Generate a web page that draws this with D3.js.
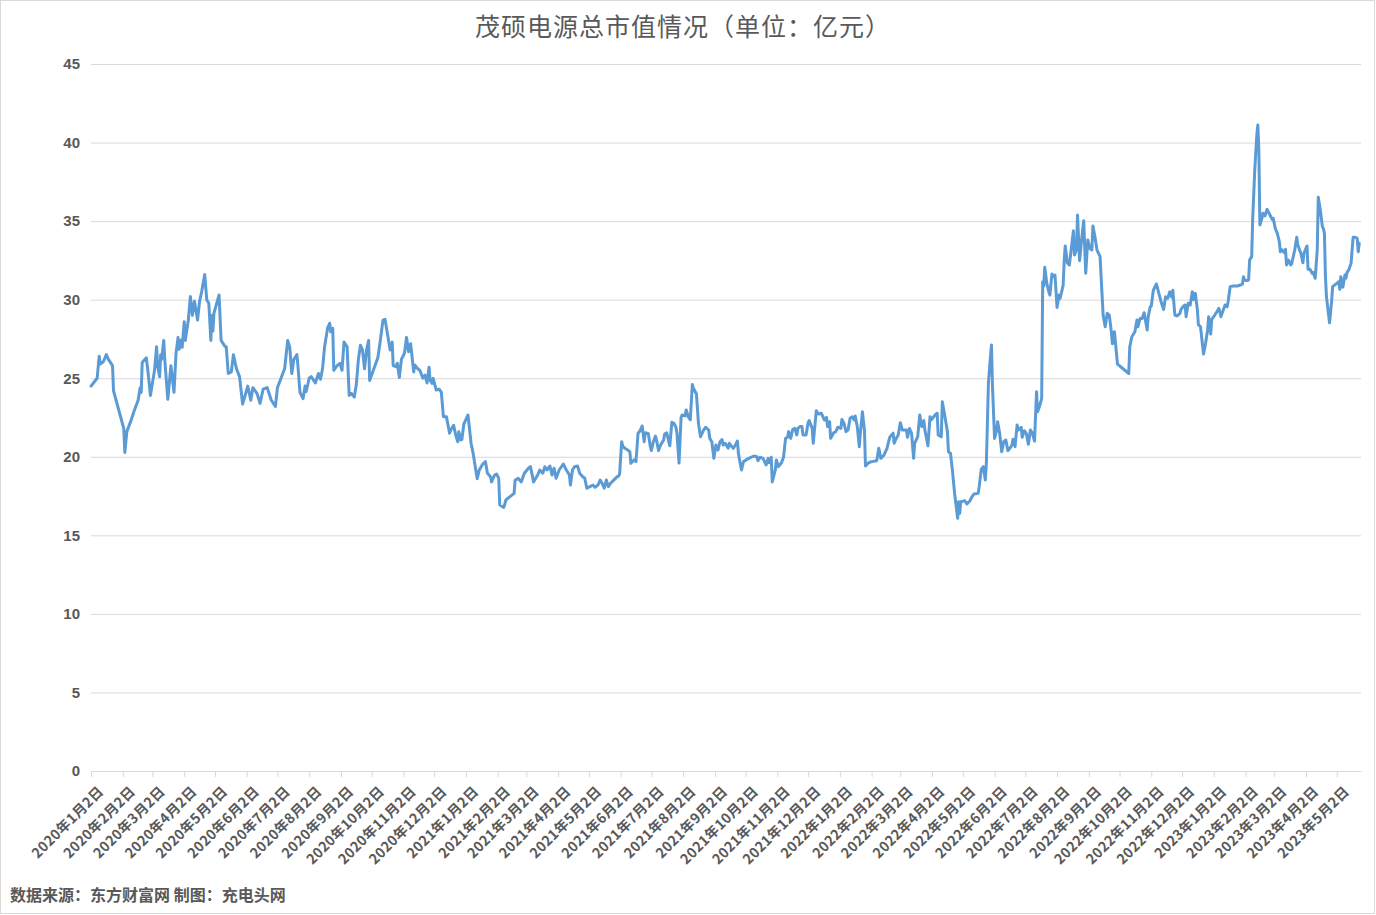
<!DOCTYPE html>
<html>
<head>
<meta charset="utf-8">
<script src="https://cdn.jsdelivr.net/npm/d3@7"></script>
<style>
  body { margin: 0; background: #fff; }
  svg { display: block; }
</style>
</head>
<body>
<div id="chart"></div>
<script>
// 茂硕电源总市值 (亿元), [date, value]
var cap2020 = [["2020-01-02",24.5],["2020-01-08",25.0],["2020-01-10",26.4],["2020-01-11",25.9],["2020-01-14",26.05],["2020-01-17",26.5],["2020-01-19",26.2],["2020-01-23",25.8],["2020-01-24",24.2],["2020-02-03",21.8],["2020-02-04",20.27],["2020-02-06",21.6],["2020-02-10",22.3],["2020-02-13",22.9],["2020-02-17",23.6],["2020-02-19",24.4],["2020-02-20",24.1],["2020-02-21",26.0],["2020-02-25",26.3],["2020-02-27",25.2],["2020-02-29",23.9],["2020-03-04",25.5],["2020-03-06",27.0],["2020-03-07",25.8],["2020-03-09",25.1],["2020-03-10",26.5],["2020-03-11",26.2],["2020-03-13",27.4],["2020-03-14",26.2],["2020-03-17",23.66],["2020-03-20",25.8],["2020-03-23",24.1],["2020-03-25",26.6],["2020-03-27",27.6],["2020-03-28",26.84],["2020-03-30",27.43],["2020-03-31",26.97],["2020-04-02",28.6],["2020-04-03",27.4],["2020-04-06",28.7],["2020-04-08",30.2],["2020-04-10",29.0],["2020-04-12",29.9],["2020-04-15",28.7],["2020-04-17",29.9],["2020-04-19",30.5],["2020-04-22",31.6],["2020-04-24",30.0],["2020-04-26",29.77],["2020-04-28",27.4],["2020-04-29",29.0],["2020-04-30",28.0],["2020-05-01",29.13],["2020-05-06",30.3],["2020-05-08",27.4],["2020-05-10",27.2],["2020-05-12",27.0],["2020-05-13",27.0],["2020-05-15",25.3],["2020-05-18",25.4],["2020-05-20",26.5],["2020-05-23",25.6],["2020-05-26",25.1],["2020-05-29",23.36],["2020-05-31",23.8],["2020-06-03",24.5],["2020-06-06",23.6],["2020-06-08",24.4],["2020-06-12",24.04],["2020-06-15",23.4],["2020-06-18",24.3],["2020-06-22",24.4],["2020-06-26",23.6],["2020-06-30",23.2],["2020-07-02",24.4],["2020-07-06",25.1],["2020-07-09",25.6],["2020-07-10",26.2],["2020-07-12",27.4],["2020-07-14",26.97],["2020-07-16",25.3],["2020-07-18",26.2],["2020-07-21",26.5],["2020-07-22",25.78],["2020-07-24",24.1],["2020-07-27",23.7],["2020-07-29",24.5],["2020-07-30",24.14],["2020-08-02",25.0],["2020-08-04",25.1],["2020-08-08",24.7],["2020-08-11",25.3],["2020-08-13",24.93],["2020-08-15",25.6],["2020-08-17",27.0],["2020-08-20",28.2],["2020-08-22",28.5],["2020-08-23",27.96],["2020-08-25",28.18],["2020-08-26",25.5],["2020-08-29",25.78],["2020-09-01",25.95],["2020-09-03",25.5],["2020-09-05",27.3],["2020-09-08",27.0],["2020-09-10",23.9],["2020-09-12",24.04],["2020-09-15",23.8],["2020-09-17",24.6],["2020-09-19",26.2],["2020-09-21",27.1],["2020-09-23",26.8],["2020-09-25",25.6],["2020-09-27",26.8],["2020-09-29",27.4],["2020-09-30",24.85],["2020-10-08",26.3],["2020-10-10",27.2],["2020-10-13",28.7],["2020-10-15",28.75],["2020-10-19",27.2],["2020-10-20",26.8],["2020-10-22",27.3],["2020-10-23",25.8],["2020-10-26",25.73],["2020-10-27",25.95],["2020-10-29",25.05],["2020-10-31",26.2],["2020-11-03",26.6],["2020-11-05",27.6],["2020-11-07",26.69],["2020-11-09",27.2],["2020-11-12",25.4],["2020-11-13",25.84],["2020-11-16",25.6],["2020-11-18",25.5],["2020-11-21",25.0],["2020-11-23",25.2],["2020-11-25",24.7],["2020-11-27",25.7],["2020-11-28",24.88],["2020-11-30",24.67],["2020-12-01",24.99],["2020-12-04",24.25],["2020-12-07",24.3],["2020-12-09",24.1],["2020-12-11",22.55],["2020-12-14",22.55],["2020-12-17",21.5],["2020-12-19",21.8],["2020-12-21",22.0],["2020-12-23",21.39],["2020-12-25",20.96],["2020-12-26",21.6],["2020-12-28",21.07],["2020-12-29",21.1],["2020-12-31",22.1]];

var cap2021 = [["2021-01-04",22.66],["2021-01-07",20.86],["2021-01-09",20.22],["2021-01-13",18.6],["2021-01-15",19.16],["2021-01-18",19.5],["2021-01-21",19.7],["2021-01-23",18.95],["2021-01-26",18.73],["2021-01-27",18.4],["2021-01-30",18.84],["2021-02-01",18.9],["2021-02-03",18.63],["2021-02-04",16.93],["2021-02-08",16.78],["2021-02-10",17.25],["2021-02-14",17.46],["2021-02-18",17.67],["2021-02-19",18.5],["2021-02-22",18.63],["2021-02-25",18.4],["2021-02-28",18.95],["2021-03-04",19.27],["2021-03-06",19.37],["2021-03-09",18.4],["2021-03-13",18.84],["2021-03-15",19.16],["2021-03-18",18.95],["2021-03-20",19.37],["2021-03-22",19.16],["2021-03-25",19.41],["2021-03-27",18.84],["2021-03-29",19.27],["2021-03-31",18.63],["2021-04-03",19.16],["2021-04-07",19.54],["2021-04-10",19.16],["2021-04-13",18.84],["2021-04-14",18.2],["2021-04-16",19.16],["2021-04-18",19.37],["2021-04-21",19.41],["2021-04-23",18.95],["2021-04-26",18.73],["2021-04-28",18.63],["2021-04-30",18.0],["2021-05-03",18.1],["2021-05-06",18.2],["2021-05-08",18.06],["2021-05-11",18.2],["2021-05-13",18.52],["2021-05-15",18.3],["2021-05-17",18.0],["2021-05-19",18.52],["2021-05-21",18.1],["2021-05-23",18.3],["2021-05-26",18.5],["2021-05-29",18.69],["2021-05-31",18.78],["2021-06-01",18.9],["2021-06-03",20.96],["2021-06-04",20.69],["2021-06-06",20.54],["2021-06-09",20.43],["2021-06-11",20.32],["2021-06-12",19.58],["2021-06-15",19.8],["2021-06-17",19.7],["2021-06-19",21.5],["2021-06-21",21.66],["2021-06-23",21.96],["2021-06-25",20.96],["2021-06-26",21.53],["2021-06-29",21.49],["2021-07-01",20.64],["2021-07-02",20.4],["2021-07-04",20.96],["2021-07-06",21.32],["2021-07-07",21.07],["2021-07-09",20.4],["2021-07-11",20.75],["2021-07-14",21.07],["2021-07-15",21.45],["2021-07-17",21.53],["2021-07-19",20.96],["2021-07-20",20.7],["2021-07-22",22.2],["2021-07-24",22.13],["2021-07-26",21.88],["2021-07-27",21.49],["2021-07-29",19.6],["2021-07-31",22.5],["2021-08-01",22.66],["2021-08-04",22.6],["2021-08-05",22.98],["2021-08-07",22.55],["2021-08-09",22.35],["2021-08-11",24.6],["2021-08-12",24.36],["2021-08-15",24.0],["2021-08-17",22.1],["2021-08-19",21.28],["2021-08-22",21.7],["2021-08-24",21.88],["2021-08-27",21.7],["2021-08-28",21.17],["2021-08-30",20.96],["2021-09-01",19.9],["2021-09-03",20.75],["2021-09-05",20.43],["2021-09-07",20.96],["2021-09-09",21.1],["2021-09-10",20.75],["2021-09-12",20.86],["2021-09-15",20.54],["2021-09-16",20.86],["2021-09-18",20.69],["2021-09-20",20.54],["2021-09-22",20.75],["2021-09-24",21.0],["2021-09-25",20.2],["2021-09-27",19.48],["2021-09-28",19.16],["2021-09-30",19.7],["2021-10-05",19.9],["2021-10-10",20.05],["2021-10-13",20.0],["2021-10-14",19.75],["2021-10-16",19.97],["2021-10-19",19.9],["2021-10-22",19.48],["2021-10-24",19.9],["2021-10-25",19.62],["2021-10-27",19.97],["2021-10-28",18.4],["2021-10-31",19.16],["2021-11-01",19.8],["2021-11-03",19.37],["2021-11-06",19.62],["2021-11-08",19.97],["2021-11-10",21.17],["2021-11-12",21.24],["2021-11-13",21.6],["2021-11-15",21.17],["2021-11-17",21.75],["2021-11-19",21.81],["2021-11-21",21.39],["2021-11-22",21.81],["2021-11-24",21.92],["2021-11-26",21.92],["2021-11-27",21.39],["2021-11-30",21.39],["2021-12-02",22.17],["2021-12-03",22.3],["2021-12-06",21.81],["2021-12-07",20.86],["2021-12-10",22.93],["2021-12-12",22.72],["2021-12-15",22.77],["2021-12-18",22.34],["2021-12-20",22.51],["2021-12-21",21.92],["2021-12-23",22.23],["2021-12-24",21.17],["2021-12-27",21.53],["2021-12-29",21.6],["2021-12-31",21.88]];

var cap2022 = [["2022-01-03",21.81],["2022-01-04",22.38],["2022-01-06",22.13],["2022-01-08",21.6],["2022-01-10",21.7],["2022-01-12",22.45],["2022-01-14",22.55],["2022-01-16",22.34],["2022-01-17",22.6],["2022-01-19",21.92],["2022-01-21",20.64],["2022-01-22",21.49],["2022-01-24",22.87],["2022-01-26",21.7],["2022-01-27",19.41],["2022-01-30",19.62],["2022-02-02",19.69],["2022-02-07",19.75],["2022-02-09",20.54],["2022-02-11",19.9],["2022-02-14",20.1],["2022-02-17",20.54],["2022-02-19",21.07],["2022-02-20",21.28],["2022-02-23",21.5],["2022-02-24",20.86],["2022-02-26",21.17],["2022-02-28",21.39],["2022-03-02",22.17],["2022-03-04",21.7],["2022-03-08",21.7],["2022-03-09",21.24],["2022-03-11",21.8],["2022-03-13",21.49],["2022-03-15",19.9],["2022-03-16",20.86],["2022-03-19",21.28],["2022-03-21",22.66],["2022-03-23",21.92],["2022-03-25",22.3],["2022-03-26",21.7],["2022-03-29",20.7],["2022-03-31",22.55],["2022-04-01",22.34],["2022-04-05",22.66],["2022-04-07",22.77],["2022-04-08",21.39],["2022-04-11",21.28],["2022-04-12",23.5],["2022-04-14",22.77],["2022-04-17",21.6],["2022-04-18",20.32],["2022-04-20",20.22],["2022-04-22",19.05],["2022-04-24",17.67],["2022-04-27",16.08],["2022-04-28",17.14],["2022-04-29",16.4],["2022-04-30",17.14],["2022-05-04",17.2],["2022-05-06",16.99],["2022-05-09",17.2],["2022-05-11",17.46],["2022-05-13",17.63],["2022-05-17",17.67],["2022-05-18",18.1],["2022-05-20",19.2],["2022-05-22",19.37],["2022-05-24",18.52],["2022-05-25",19.58],["2022-05-27",24.68],["2022-05-29",26.37],["2022-05-30",27.11],["2022-05-31",24.46],["2022-06-02",21.17],["2022-06-04",21.7],["2022-06-05",22.23],["2022-06-07",21.49],["2022-06-09",20.32],["2022-06-11",20.96],["2022-06-13",21.07],["2022-06-15",20.39],["2022-06-17",20.54],["2022-06-19",20.75],["2022-06-20",21.11],["2022-06-22",20.64],["2022-06-24",22.02],["2022-06-25",21.7],["2022-06-28",21.88],["2022-06-29",21.24],["2022-07-01",21.66],["2022-07-03",21.49],["2022-07-05",20.8],["2022-07-07",21.7],["2022-07-09",21.49],["2022-07-11",21.0],["2022-07-13",24.14],["2022-07-14",22.87],["2022-07-16",23.23],["2022-07-18",23.72],["2022-07-19",31.14],["2022-07-20",30.87],["2022-07-21",32.06],["2022-07-23",31.04],["2022-07-25",30.5],["2022-07-26",30.29],["2022-07-28",31.63],["2022-07-30",31.46],["2022-07-31",31.57],["2022-08-02",29.5],["2022-08-04",30.29],["2022-08-05",30.08],["2022-08-08",30.93],["2022-08-09",32.52],["2022-08-10",33.42],["2022-08-12",32.35],["2022-08-14",32.2],["2022-08-16",33.27],["2022-08-18",34.39],["2022-08-19",32.84],["2022-08-21",33.16],["2022-08-22",35.39],["2022-08-24",32.48],["2022-08-26",33.8],["2022-08-28",35.03],["2022-08-30",31.68],["2022-09-01",33.8],["2022-09-03",33.27],["2022-09-05",33.16],["2022-09-06",34.69],["2022-09-08",34.01],["2022-09-10",33.16],["2022-09-13",32.74],["2022-09-16",29.02],["2022-09-18",28.28],["2022-09-20",29.13],["2022-09-22",29.02],["2022-09-24",27.96],["2022-09-25",27.2],["2022-09-27",27.96],["2022-09-30",25.9],["2022-10-11",25.3],["2022-10-12",27.0],["2022-10-14",27.64],["2022-10-17",27.96],["2022-10-19",28.7],["2022-10-20",28.28],["2022-10-22",28.8],["2022-10-24",28.8],["2022-10-26",29.17],["2022-10-29",28.07],["2022-10-30",28.92],["2022-11-01",29.55],["2022-11-02",29.6],["2022-11-04",30.6],["2022-11-07",31.0],["2022-11-09",30.5],["2022-11-12",29.77],["2022-11-14",29.38],["2022-11-16",30.18],["2022-11-18",30.08],["2022-11-20",30.5],["2022-11-22",30.15],["2022-11-23",30.6],["2022-11-25",29.02],["2022-11-27",28.96],["2022-11-30",29.13],["2022-12-01",29.38],["2022-12-03",29.55],["2022-12-05",29.66],["2022-12-06",28.92],["2022-12-08",29.77],["2022-12-10",29.66],["2022-12-12",30.5],["2022-12-13",30.0],["2022-12-15",30.4],["2022-12-17",29.34],["2022-12-18",28.39],["2022-12-20",28.28],["2022-12-23",26.54],["2022-12-25",27.22],["2022-12-27",28.07],["2022-12-28",28.92],["2022-12-30",27.81],["2022-12-31",28.75]];

var cap2023 = [["2023-01-03",29.02],["2023-01-05",29.23],["2023-01-07",29.45],["2023-01-09",28.92],["2023-01-11",29.3],["2023-01-13",29.66],["2023-01-15",29.55],["2023-01-16",29.87],["2023-01-18",30.83],["2023-01-21",30.87],["2023-01-25",30.87],["2023-01-28",30.93],["2023-01-30",31.0],["2023-01-31",31.46],["2023-02-01",31.25],["2023-02-03",31.21],["2023-02-05",31.25],["2023-02-06",32.52],["2023-02-08",32.74],["2023-02-09",35.18],["2023-02-11",38.25],["2023-02-13",40.48],["2023-02-14",41.12],["2023-02-15",39.53],["2023-02-16",34.75],["2023-02-18",35.18],["2023-02-19",35.5],["2023-02-21",35.33],["2023-02-23",35.75],["2023-02-25",35.5],["2023-02-28",35.11],["2023-03-01",35.18],["2023-03-03",34.54],["2023-03-05",34.22],["2023-03-07",33.69],["2023-03-08",33.05],["2023-03-09",33.2],["2023-03-12",32.99],["2023-03-13",33.2],["2023-03-14",32.21],["2023-03-16",32.52],["2023-03-18",32.21],["2023-03-19",32.27],["2023-03-22",33.16],["2023-03-24",33.97],["2023-03-25",33.48],["2023-03-28",32.95],["2023-03-30",32.35],["2023-03-31",32.95],["2023-04-03",33.42],["2023-04-04",31.93],["2023-04-06",31.93],["2023-04-08",31.68],["2023-04-09",31.72],["2023-04-11",31.36],["2023-04-13",33.16],["2023-04-14",36.52],["2023-04-16",35.71],["2023-04-18",34.64],["2023-04-19",34.54],["2023-04-20",34.22],["2023-04-21",31.46],["2023-04-22",30.18],["2023-04-25",28.53],["2023-04-27",29.87],["2023-04-28",30.83],["2023-05-02",31.04],["2023-05-04",31.14],["2023-05-05",30.66],["2023-05-06",31.46],["2023-05-08",30.79],["2023-05-10",31.57],["2023-05-11",31.36],["2023-05-12",31.72],["2023-05-14",31.93],["2023-05-16",32.31],["2023-05-18",33.97],["2023-05-20",33.97],["2023-05-22",33.9],["2023-05-23",33.05],["2023-05-24",33.59]];

var monthTicks = ["2020-01-02","2020-02-02","2020-03-02","2020-04-02","2020-05-02","2020-06-02","2020-07-02","2020-08-02","2020-09-02","2020-10-02","2020-11-02","2020-12-02",
                  "2021-01-02","2021-02-02","2021-03-02","2021-04-02","2021-05-02","2021-06-02","2021-07-02","2021-08-02","2021-09-02","2021-10-02","2021-11-02","2021-12-02",
                  "2022-01-02","2022-02-02","2022-03-02","2022-04-02","2022-05-02","2022-06-02","2022-07-02","2022-08-02","2022-09-02","2022-10-02","2022-11-02","2022-12-02",
                  "2023-01-02","2023-02-02","2023-03-02","2023-04-02","2023-05-02"];
var yTicks = [0, 5, 10, 15, 20, 25, 30, 35, 40, 45];

var titleText = "茂硕电源总市值情况（单位：亿元）";
var sourceText = "数据来源：东方财富网 制图：充电头网";

var width = 1376, height = 915;
var plot = {left: 91, right: 1361, top: 64, bottom: 771};

var parse = d3.timeParse("%Y-%m-%d");
var fmt = d3.timeFormat("%Y年%-m月%-d日");

var data = cap2020.concat(cap2021, cap2022, cap2023).map(function(d) {
  return {date: parse(d[0]), value: d[1]};
});
var ticks = monthTicks.map(parse);

var x = d3.scaleTime()
    .domain([parse("2020-01-02"), new Date(2023, 4, 25, 17)])
    .range([plot.left, plot.right]);
var y = d3.scaleLinear().domain([0, 45]).range([plot.bottom, plot.top]);

var svg = d3.select("#chart").append("svg")
    .attr("width", width)
    .attr("height", height);

svg.append("rect")
    .attr("x", 0.5).attr("y", 0.5)
    .attr("width", width - 2).attr("height", height - 2)
    .attr("fill", "#fff")
    .attr("stroke", "#d9d9d9");

// grid
svg.append("g")
    .attr("class", "grid")
    .attr("transform", "translate(" + plot.left + ",0)")
    .call(d3.axisLeft(y).tickValues(yTicks.slice(1)).tickSize(-(plot.right - plot.left)).tickFormat(""))
    .call(function(g) { g.select(".domain").remove(); })
    .selectAll("line").attr("stroke", "#d9d9d9");

// y labels
svg.append("g")
    .attr("transform", "translate(" + (plot.left - 11) + ",0)")
    .call(d3.axisLeft(y).tickValues(yTicks).tickSize(0).tickPadding(0))
    .call(function(g) { g.select(".domain").remove(); })
    .selectAll("text")
    .attr("fill", "#595959")
    .style("font-family", "'Liberation Sans', Arial, sans-serif")
    .style("font-weight", "bold")
    .style("font-size", "15px");

// x axis
var xAxis = svg.append("g")
    .attr("transform", "translate(0," + plot.bottom + ")")
    .call(d3.axisBottom(x).tickValues(ticks).tickSize(6).tickSizeOuter(0).tickFormat(""));
xAxis.select(".domain").attr("stroke", "#d9d9d9");
xAxis.selectAll(".tick line").attr("stroke", "#d9d9d9");

svg.append("g").selectAll("text")
    .data(ticks)
    .enter()
    .append("text")
    .attr("transform", function(d) { return "translate(" + (x(d) + 10) + "," + (plot.bottom + 18) + ") rotate(-45)"; })
    .attr("text-anchor", "end")
    .attr("dy", "0.35em")
    .attr("fill", "#595959")
    .style("font-family", "'Noto Sans CJK SC', sans-serif")
    .style("font-weight", "bold")
    .style("font-size", "14px")
    .style("letter-spacing", "0.3px")
    .text(function(d) { return fmt(d); });

// the line
var valueline = d3.line()
    .x(function(d) { return x(d.date); })
    .y(function(d) { return y(d.value); });

svg.append("path")
    .datum(data)
    .attr("fill", "none")
    .attr("stroke", "#5b9bd5")
    .attr("stroke-width", 3)
    .attr("stroke-linejoin", "round")
    .attr("stroke-linecap", "round")
    .attr("d", valueline);

svg.append("text")
    .attr("x", 683)
    .attr("y", 36)
    .attr("text-anchor", "middle")
    .attr("fill", "#595959")
    .style("font-family", "'Noto Sans CJK SC', sans-serif")
    .style("font-size", "25px")
    .style("letter-spacing", "1px")
    .text(titleText);

svg.append("text")
    .attr("x", 10)
    .attr("y", 901)
    .attr("fill", "#595959")
    .style("font-family", "'Noto Sans CJK SC', sans-serif")
    .style("font-weight", "bold")
    .style("font-size", "16px")
    .text(sourceText);
</script>
</body>
</html>
